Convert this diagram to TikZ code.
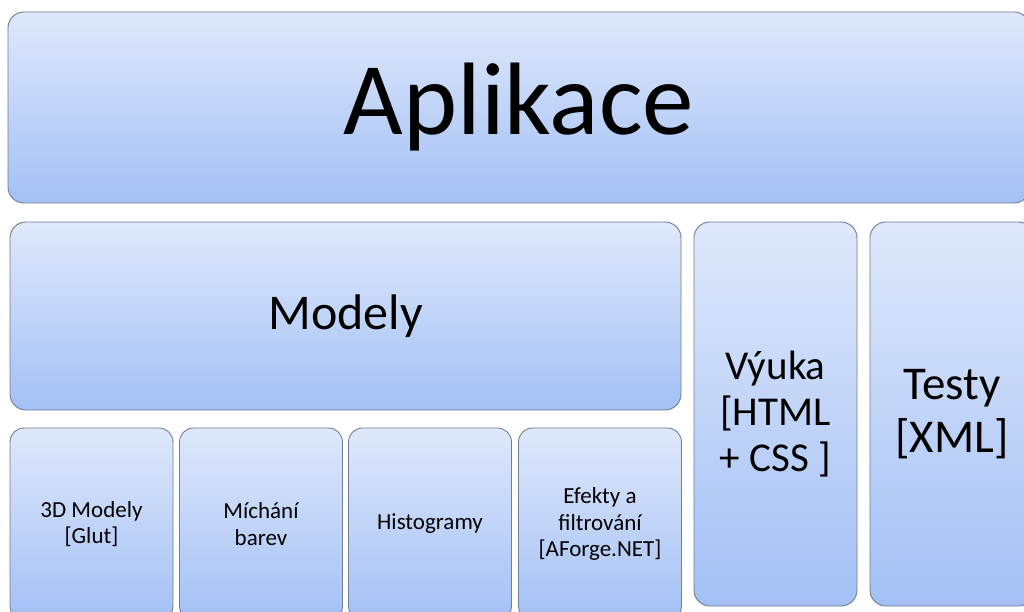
\documentclass[tikz,border=0pt]{standalone}
\usepackage{fontspec}
\setmainfont{Carlito}
\usepackage{tikz}
\usetikzlibrary{positioning, shapes.geometric}

\begin{document}
\begin{tikzpicture}[x=1pt, y=-1pt,
    blok/.style={draw=blokline, line width=0.9pt, rounded corners=16pt,
        top color=bloktop, bottom color=blokbot, text=black,
        align=center, inner sep=0pt},
    maly/.style={blok, minimum width=163pt, minimum height=192pt,
        rounded corners=14pt, font=\fontsize{23}{26.5}\selectfont}]
    % Barvy
    \definecolor{blokline}{RGB}{112, 126, 150}
    \definecolor{bloktop}{RGB}{223, 232, 251}
    \definecolor{blokbot}{RGB}{163, 192, 245}

    % 1. Oblast obrazku (boxy vpravo a dole jsou oriznute)
    \path[use as bounding box, clip] (0,0) rectangle (1024,612);
    \fill[white] (0,0) rectangle (1024,612);

    % 2. Horni vrstva - aplikace
    \node[blok, minimum width=1022pt, minimum height=191pt,
        font=\fontsize{103}{112}\selectfont] (aplikace) at (519,107.5) {Aplikace};

    % 3. Modely
    \node[blok, minimum width=671pt, minimum height=188pt,
        font=\fontsize{50}{56}\selectfont] (modely) at (345.5,316) {Modely};

    % 4. Jednotlive modely (4 boxy pod sebou)
    \node[maly] (glut) at (91.5,524) {3D Modely\\{[}Glut{]}};
    \node[maly] (michani) at (261,524) {Míchání\\barev};
    \node[maly] (histo) at (430,524) {Histogramy};
    \node[maly] (efekty) at (600,524) {Efekty a\\filtrování\\{[}AForge.NET{]}};

    % 5. Vyuka a testy
    \node[blok, minimum width=163pt, minimum height=384pt,
        font=\fontsize{41}{46}\selectfont] (vyuka) at (775.5,414) {Výuka\\{[}HTML\\+ CSS {]}};
    \node[blok, minimum width=164pt, minimum height=384pt,
        font=\fontsize{47}{53}\selectfont] (testy) at (952,414) {Testy\\{[}XML{]}};

\end{tikzpicture}
\end{document}
